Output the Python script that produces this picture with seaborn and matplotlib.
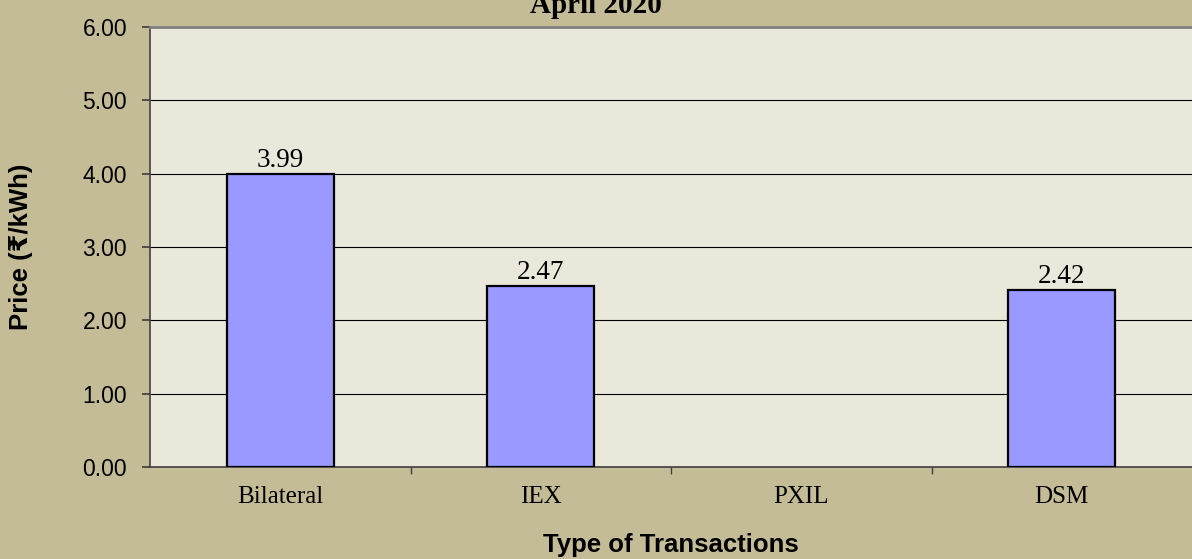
import matplotlib
matplotlib.use("Agg")
import matplotlib.pyplot as plt
import seaborn as sns
import pandas as pd
import numpy as np

categories = ["Bilateral", "IEX", "PXIL", "DSM"]
prices = [3.99, 2.47, np.nan, 2.42]
value_labels = ["3.99", "2.47", "", "2.42"]
yticks = [0, 1, 2, 3, 4, 5, 6]

sns.set_theme(style="white")
plt.rcParams['font.family'] = ['Liberation Sans', 'DejaVu Sans']
plt.rcParams['text.color'] = 'black'
plt.rcParams['axes.labelcolor'] = 'black'

df = pd.DataFrame({"Type": categories, "Price": prices})

W, H = 1192, 559
fig = plt.figure(figsize=(W/100, H/100), dpi=100, facecolor="#C4BC96")
L, R, T, B = 150, 1192, 27, 467
ax = fig.add_axes([L/W, 1-B/H, (R-L)/W, (B-T)/H])
ax.set_facecolor("#EAE7DB")

sns.barplot(data=df, x="Type", y="Price", order=categories, color="#9999FF",
            saturation=1, width=0.41, edgecolor="black", linewidth=1.6, ax=ax, zorder=3)

ax.set_ylim(0, 6)
ax.set_xlim(-0.5, 3.5)
ax.set_yticks(yticks)
ax.set_yticklabels([f"{v:.2f}" for v in yticks], fontsize=16.5, color="black")
ax.yaxis.grid(True, color="black", linewidth=0.8, zorder=0)
ax.set_axisbelow(True)

ax.set_xticks(range(len(categories)))
ax.set_xticklabels(categories, fontsize=18, family=['Liberation Serif'], color="black")
ax.tick_params(axis='x', which='major', length=0, pad=14)
ax.set_xticks([0.5, 1.5, 2.5], minor=True)
ax.tick_params(axis='x', which='minor', length=5, direction='out', color='#404040', bottom=True)
ax.tick_params(axis='y', length=5.5, direction='out', color='#404040', left=True, pad=11)

for i, (v, lab) in enumerate(zip(prices, value_labels)):
    if lab:
        ax.annotate(lab, (i, v), xytext=(0, 5), textcoords='offset points',
                    ha='center', va='baseline', fontsize=19.5,
                    family=['Liberation Serif'], color='black')

for s in ["left", "bottom"]:
    ax.spines[s].set_color("#404040")
    ax.spines[s].set_linewidth(1.2)
ax.spines["top"].set_color("#808080")
ax.spines["top"].set_linewidth(2)
ax.spines["right"].set_visible(False)

ax.set_xlabel("Type of Transactions", fontsize=18.5, fontweight='bold', color='black')
ax.xaxis.set_label_coords(0.5, (B-533)/(B-T))
ax.set_ylabel("Price (₹/kWh)", fontsize=18.5, fontweight='bold', color='black')
ax.yaxis.set_label_coords((33-L)/(R-L), 0.5)
fig.text(0.5, 1-13/H, "April 2020", ha='center', va='baseline', fontsize=21,
         fontweight='bold', family=['Liberation Serif'], color='black')

fig.savefig("out.png", dpi=100, facecolor=fig.get_facecolor())
